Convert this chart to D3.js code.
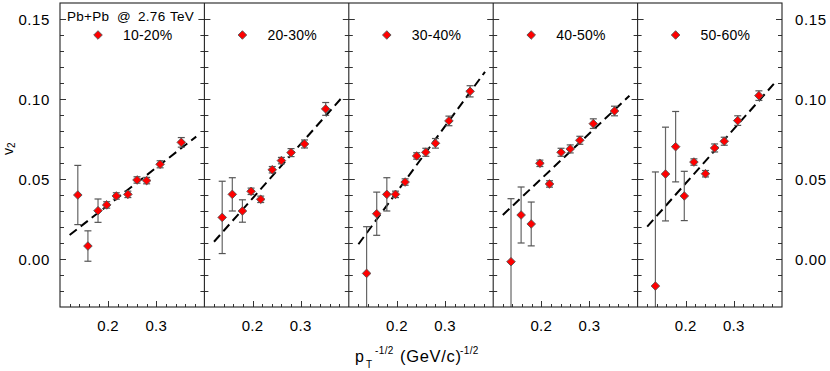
<!DOCTYPE html>
<html>
<head>
<meta charset="utf-8">
<script src="https://cdn.jsdelivr.net/npm/d3@7"></script>
<style>
  html, body { margin: 0; padding: 0; background: #fff; }
  svg { display: block; font-family: "Liberation Sans", Arial, sans-serif; }
</style>
</head>
<body>
<svg id="chart" width="830" height="371"></svg>
<script>
// ---- data ----
const centralities = ["10-20%", "20-30%", "30-40%", "40-50%", "50-60%"];
const xValues = [0.137, 0.158, 0.179, 0.197, 0.217, 0.241, 0.260, 0.280, 0.308, 0.352];

const v2_10_20 = [0.040, 0.0081, 0.0302, 0.0338, 0.0394, 0.0404, 0.0494, 0.0490, 0.0592, 0.0729];
const err_10_20 = [0.0185, 0.0095, 0.0073, 0.002, 0.002, 0.002, 0.002, 0.002, 0.0022, 0.003];
const v2_20_30 = [0.0260, 0.0404, 0.0300, 0.0423, 0.0373, 0.0558, 0.0615, 0.0665, 0.0719, 0.0938];
const err_20_30 = [0.0226, 0.0104, 0.0070, 0.002, 0.002, 0.002, 0.002, 0.0025, 0.0025, 0.004];
const v2_30_40 = [-0.0090, 0.0283, 0.0404, 0.0404, 0.0481, 0.0644, 0.0667, 0.0723, 0.0863, 0.1048];
const err_30_40 = [0.0292, 0.0135, 0.0104, 0.002, 0.002, 0.002, 0.0025, 0.003, 0.003, 0.0035];
const v2_40_50 = [-0.0017, 0.0275, 0.0219, 0.0598, 0.0469, 0.0667, 0.0688, 0.0742, 0.0846, 0.0925];
const err_40_50 = [0.0394, 0.0175, 0.0137, 0.002, 0.002, 0.0025, 0.0025, 0.0025, 0.003, 0.003];
const v2_50_60 = [-0.0169, 0.0531, 0.0702, 0.0394, 0.0606, 0.0533, 0.0694, 0.0736, 0.0865, 0.1021];
const err_50_60 = [0.0713, 0.0293, 0.0220, 0.0154, 0.002, 0.002, 0.0025, 0.0025, 0.003, 0.003];

// dashed fit lines: value at fit start/end x
const fitX = [0.12, 0.383];
const fitStart = [0.0150, 0.0108, 0.0092, 0.0275, 0.0202];
const fitEnd = [0.0765, 0.1000, 0.1170, 0.1020, 0.1094];

const yTickLabels = [0.00, 0.05, 0.10, 0.15];
const xTickLabels = [0.2, 0.3];
const headerWords = ["Pb+Pb", "@", "2.76", "TeV"];

const series = [v2_10_20, v2_20_30, v2_30_40, v2_40_50, v2_50_60];
const errors = [err_10_20, err_20_30, err_30_40, err_40_50, err_50_60];

(function () {
// ---- layout ----
const svg = d3.select("#chart");
const pLeft = 60, pRight = 782, pTop = 3, pBottom = 307;
const nP = centralities.length;
const pw = (pRight - pLeft) / nP;

const y = d3.scaleLinear().domain([-0.03, 0.16]).range([pBottom, pTop]);

svg.append("defs").append("clipPath").attr("id", "plotclip")
  .append("rect").attr("x", pLeft).attr("y", pTop).attr("width", pRight - pLeft).attr("height", pBottom - pTop);

const yMinor = d3.range(-2, 16).map(d => d / 100);
const xMinor = d3.range(6, 20).map(d => d / 50);

function diamond(cx, cy, r) {
  return `M${cx},${cy - r}L${cx + r},${cy}L${cx},${cy + r}L${cx - r},${cy}Z`;
}

centralities.forEach((c, i) => {
  const x0 = pLeft + i * pw, x1 = x0 + pw;
  const x = d3.scaleLinear().domain([0.1, 0.4]).range([x0, x1]);
  const g = svg.append("g");

  // y ticks on both panel edges, pointing inward
  yMinor.forEach(v => {
    const major = Math.abs(Math.round(v * 100) % 5) === 0;
    const len = major ? 6 : 4;
    const yy = Math.round(y(v)) + 0.5;
    g.append("line").attr("x1", x0).attr("x2", x0 + len).attr("y1", yy).attr("y2", yy)
      .attr("stroke", "#333").attr("stroke-width", 1);
    g.append("line").attr("x1", x1).attr("x2", x1 - len).attr("y1", yy).attr("y2", yy)
      .attr("stroke", "#333").attr("stroke-width", 1);
  });
  // x ticks
  xMinor.forEach(v => {
    const major = Math.abs(Math.round(v * 100) % 10) === 0;
    const len = major ? 6 : 3;
    const xx = Math.round(x(v)) + 0.5;
    g.append("line").attr("x1", xx).attr("x2", xx).attr("y1", pBottom).attr("y2", pBottom - len)
      .attr("stroke", "#333").attr("stroke-width", 1);
  });
  xTickLabels.forEach(v => {
    g.append("text").attr("x", x(v)).attr("y", 331).attr("text-anchor", "middle")
      .attr("font-size", 15).attr("letter-spacing", 0.3).attr("fill", "#000").text(d3.format(".1f")(v));
  });

  const pg = g.append("g").attr("clip-path", "url(#plotclip)");

  // dashed fit line
  pg.append("line")
    .attr("x1", x(fitX[0])).attr("y1", y(fitStart[i]))
    .attr("x2", x(fitX[1])).attr("y2", y(fitEnd[i]))
    .attr("stroke", "#000").attr("stroke-width", 2).attr("stroke-dasharray", "9,5");

  const vals = series[i], errs = errors[i];
  // error bars
  xValues.forEach((xv, k) => {
    const px = x(xv);
    const yt = y(vals[k] + errs[k]), yb = y(vals[k] - errs[k]);
    pg.append("line").attr("x1", px).attr("x2", px).attr("y1", yt).attr("y2", yb)
      .attr("stroke", "#666").attr("stroke-width", 1.2);
    [yt, yb].forEach(yy => {
      pg.append("line").attr("x1", px - 3.5).attr("x2", px + 3.5).attr("y1", yy).attr("y2", yy)
        .attr("stroke", "#555").attr("stroke-width", 1.2);
    });
  });
  // markers
  xValues.forEach((xv, k) => {
    pg.append("path").attr("d", diamond(x(xv), y(vals[k]), 4.3))
      .attr("fill", "#ff0000").attr("stroke", "#555").attr("stroke-width", 0.9);
  });

  // legend
  g.append("path").attr("d", diamond(x0 + 38, 35, 4.3))
    .attr("fill", "#ff0000").attr("stroke", "#555").attr("stroke-width", 0.9);
  g.append("text").attr("x", x0 + 63).attr("y", 40).attr("font-size", 14)
    .attr("letter-spacing", 0.2).attr("fill", "#000").text(c);
});

// frame and dividers
svg.append("rect").attr("x", pLeft).attr("y", pTop).attr("width", pRight - pLeft).attr("height", pBottom - pTop)
  .attr("fill", "none").attr("stroke", "#222").attr("stroke-width", 1.1);
d3.range(1, nP).forEach(i => {
  svg.append("line").attr("x1", pLeft + i * pw).attr("x2", pLeft + i * pw).attr("y1", pTop).attr("y2", pBottom)
    .attr("stroke", "#222").attr("stroke-width", 1.1);
});

// y tick labels (left and right)
yTickLabels.forEach(v => {
  svg.append("text").attr("x", 50).attr("y", y(v) + 5.5).attr("text-anchor", "end")
    .attr("font-size", 15).attr("letter-spacing", 0.6).text(d3.format(".2f")(v));
  svg.append("text").attr("x", 795).attr("y", y(v) + 5.5).attr("text-anchor", "start")
    .attr("font-size", 15).attr("letter-spacing", 0.6).text(d3.format(".2f")(v));
});

// header
const hx = [67, 117, 138, 170];
const ht = svg.append("text").attr("y", 21).attr("font-size", 13.5).attr("letter-spacing", 0.3);
headerWords.forEach((w, k) => ht.append("tspan").attr("x", hx[k]).text(w));

// y label
const yl = svg.append("text").attr("transform", "translate(13,155) rotate(-90)")
  .attr("font-size", 14);
yl.append("tspan").text("v");
yl.append("tspan").attr("font-size", 10).attr("dy", 1.5).text("2");

// x label
const xl = svg.append("text").attr("y", 362).attr("font-size", 16);
xl.append("tspan").attr("x", 355).text("p");
xl.append("tspan").attr("x", 366).attr("font-size", 10).attr("dy", 6).text("T");
xl.append("tspan").attr("x", 375).attr("font-size", 10).attr("letter-spacing", 0.4).attr("dy", -14).text("-1/2");
xl.append("tspan").attr("x", 400).attr("dy", 8).attr("font-size", 16.5).attr("letter-spacing", 0.7).text("(GeV/c)");
xl.append("tspan").attr("x", 460).attr("font-size", 10).attr("letter-spacing", 0.4).attr("dy", -8).text("-1/2");
})();
</script>
</body>
</html>
